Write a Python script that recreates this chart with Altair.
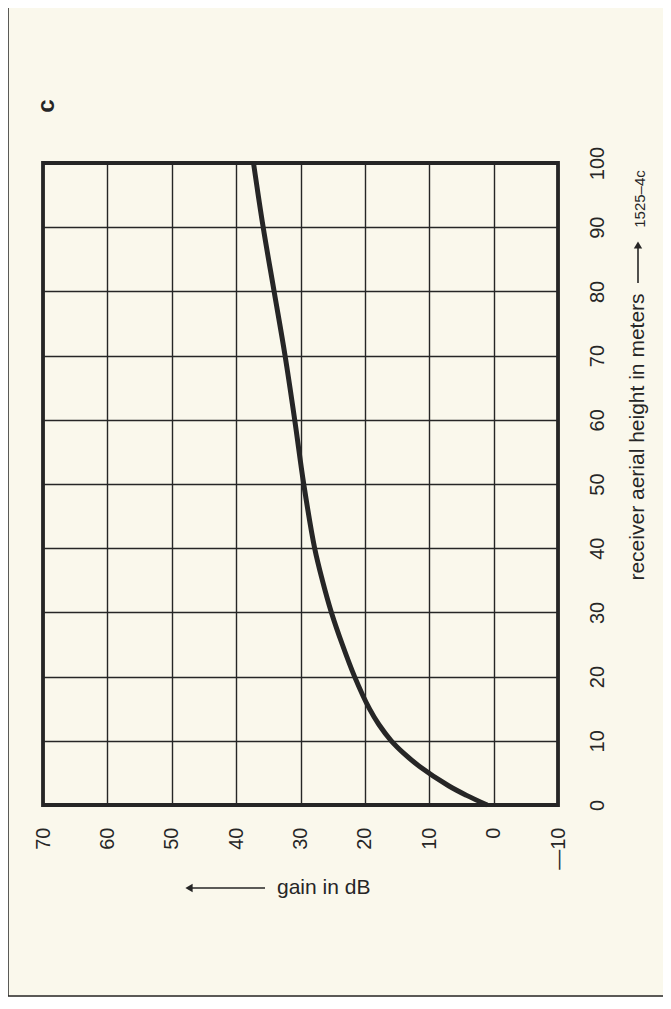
import altair as alt
import pandas as pd

# ---- data ----
height_m = [0, 1.5, 3, 6, 8, 10, 12.5, 15, 20, 25, 30, 35, 40, 50, 60, 70, 80, 90, 100]
gain_db = [1.0, 4.2, 7.0, 11.5, 13.9, 15.9, 17.8, 19.3, 21.6, 23.5, 25.2, 26.6, 27.8, 29.5, 30.9, 32.4, 34.1, 35.8, 37.3]
gain_ticks = [70, 60, 50, 40, 30, 20, 10, 0, -10]
height_ticks = [0, 10, 20, 30, 40, 50, 60, 70, 80, 90, 100]
panel_label = ["c"]
y_title = ["receiver aerial height in meters"]
x_title = ["gain in dB"]
fig_code = ["1525–4c"]

df = pd.DataFrame({"height": height_m, "gain": gain_db})

FONT = "Liberation Sans"
INK = "#262626"
BG = "#faf8ec"
W, H = 515, 642

x_enc = alt.X(
    "gain:Q",
    scale=alt.Scale(domain=[70, -10], nice=False, zero=False),
    axis=alt.Axis(
        orient="bottom", values=gain_ticks, labelAngle=270, labelAlign="right",
        labelBaseline="middle", labelPadding=22, ticks=False, domain=False,
        grid=True, gridColor=INK, gridWidth=1.4, gridOpacity=1,
        labelFont=FONT, labelFontSize=20, labelColor=INK, title=None,
        labelFlush=False, labelOverlap=False,
        labelExpr="datum.value < 0 ? '—' + (-datum.value) : datum.label",
    ),
)
y_enc = alt.Y(
    "height:Q",
    scale=alt.Scale(domain=[0, 100], nice=False, zero=False),
    axis=alt.Axis(
        orient="right", values=height_ticks, labelAngle=270, labelAlign="center",
        labelBaseline="top", labelPadding=29, ticks=False, domain=False,
        grid=True, gridColor=INK, gridWidth=1.4, gridOpacity=1,
        labelFont=FONT, labelFontSize=20, labelColor=INK, title=None,
        labelFlush=False, labelOverlap=False,
    ),
)

curve = alt.Chart(df).mark_line(
    color=INK, strokeWidth=5, interpolate="catmull-rom", strokeCap="butt"
).encode(x=x_enc, y=y_enc, order="height:Q")


def txt(values, x, y, size, angle=0, weight="normal", align="center"):
    return alt.Chart(pd.DataFrame({"t": values})).mark_text(
        font=FONT, fontSize=size, fontWeight=weight, angle=angle, align=align,
        baseline="middle", color=INK
    ).encode(text="t:N", x=alt.value(x), y=alt.value(y))


one = pd.DataFrame({"k": [0]})

lbl_c = txt(panel_label, 4, -57, 24, angle=270, weight="bold")
lbl_y = txt(y_title, 595, 274, 21, angle=270)
lbl_code = txt(fig_code, 597, 36, 15, angle=270)
lbl_x = txt(x_title, 234, 725, 21, align="left")

y_arrow = alt.Chart(one).mark_rule(color=INK, strokeWidth=1.6).encode(
    x=alt.value(595), y=alt.value(120), y2=alt.value(84))
y_head = alt.Chart(one).mark_point(shape="triangle-up", filled=True, size=70,
                                   color=INK, opacity=1).encode(
    x=alt.value(595), y=alt.value(82))
x_arrow = alt.Chart(one).mark_rule(color=INK, strokeWidth=1.6).encode(
    x=alt.value(148), x2=alt.value(222), y=alt.value(725))
x_head = alt.Chart(one).mark_point(shape="triangle-left", filled=True, size=70,
                                   color=INK, opacity=1).encode(
    x=alt.value(146), y=alt.value(725))

border_l = alt.Chart(one).mark_rule(color=INK, strokeWidth=1.5).encode(
    x=alt.value(-35), y=alt.value(-163), y2=alt.value(833))
border_b = alt.Chart(one).mark_rule(color=INK, strokeWidth=1.5).encode(
    x=alt.value(-35), x2=alt.value(620), y=alt.value(833))

chart = alt.layer(
    curve, lbl_c, lbl_y, lbl_code, lbl_x, y_arrow, y_head, x_arrow, x_head,
    border_l, border_b
).properties(
    width=W, height=H,
    autosize=alt.AutoSizeParams(type="none"),
    padding={"left": 35, "top": 155, "right": 105, "bottom": 192},
    background=BG,
).configure_view(stroke=INK, strokeWidth=3.8)

chart.save("out.html", embed_options={"renderer": "svg", "actions": False})
